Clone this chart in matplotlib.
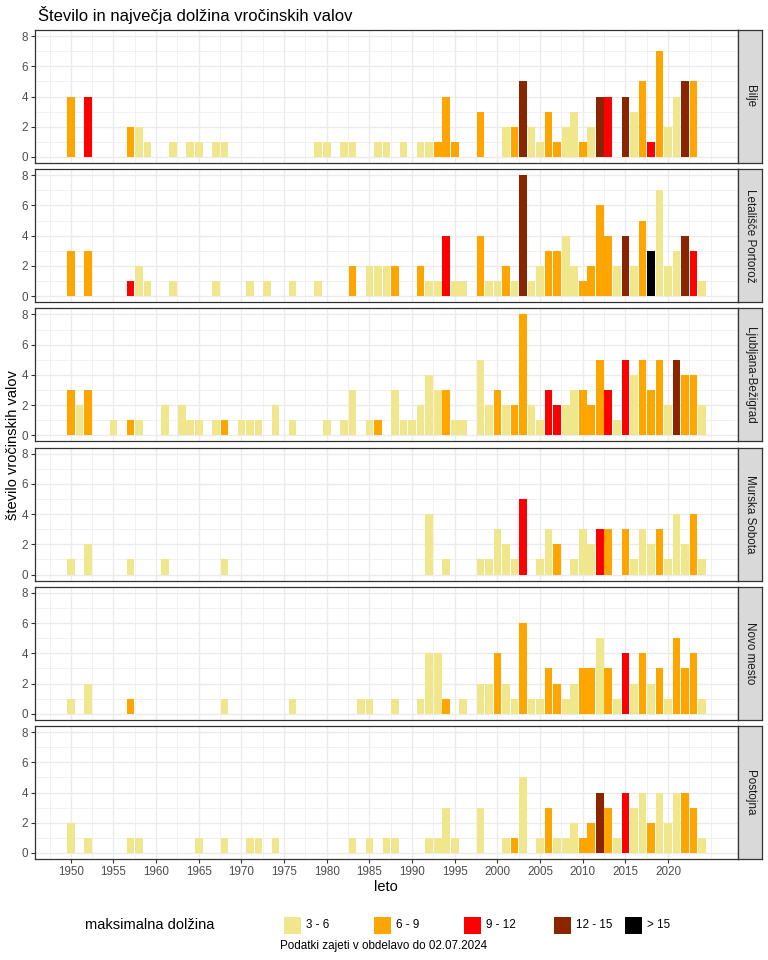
import matplotlib
matplotlib.use("Agg")
import matplotlib.pyplot as plt
from matplotlib.patches import Rectangle
from matplotlib.ticker import FixedLocator

plt.rcParams['font.family'] = ['Liberation Sans', 'DejaVu Sans']

# ---------------- data ----------------
categories = ["3 - 6", "6 - 9", "9 - 12", "12 - 15", "> 15"]
cat_colors = ["#F0E68C", "#FFA500", "#FF0000", "#8B2500", "#000000"]
stations = ["Bilje", "Letališče Portorož", "Ljubljana-Bežigrad",
            "Murska Sobota", "Novo mesto", "Postojna"]

# category codes: 1 = "3 - 6", 2 = "6 - 9", 3 = "9 - 12", 4 = "12 - 15", 5 = "> 15"
bilje_years = [1950, 1952, 1957, 1958, 1959, 1962, 1964, 1965, 1967, 1968,
               1979, 1980, 1982, 1983, 1986, 1987, 1989, 1991, 1992, 1993,
               1994, 1995, 1998, 2001, 2002, 2003, 2004, 2005, 2006, 2007,
               2008, 2009, 2010, 2011, 2012, 2013, 2015, 2016, 2017, 2018,
               2019, 2020, 2021, 2022, 2023]
bilje_counts = [4, 4, 2, 2, 1, 1, 1, 1, 1, 1,
                1, 1, 1, 1, 1, 1, 1, 1, 1, 1,
                4, 1, 3, 2, 2, 5, 2, 1, 3, 1,
                2, 3, 1, 2, 4, 4, 4, 3, 5, 1,
                7, 2, 4, 5, 5]
bilje_cats = [2, 3, 2, 1, 1, 1, 1, 1, 1, 1,
              1, 1, 1, 1, 1, 1, 1, 1, 1, 2,
              2, 2, 2, 1, 2, 4, 1, 1, 2, 2,
              1, 1, 2, 1, 4, 3, 4, 1, 2, 3,
              2, 1, 1, 4, 2]

portoroz_years = [1950, 1952, 1957, 1958, 1959, 1962, 1967, 1971, 1973, 1976,
                  1979, 1983, 1985, 1986, 1987, 1988, 1991, 1992, 1993, 1994,
                  1995, 1996, 1998, 1999, 2000, 2001, 2002, 2003, 2004, 2005,
                  2006, 2007, 2008, 2009, 2010, 2011, 2012, 2013, 2014, 2015,
                  2016, 2017, 2018, 2019, 2020, 2021, 2022, 2023, 2024]
portoroz_counts = [3, 3, 1, 2, 1, 1, 1, 1, 1, 1,
                   1, 2, 2, 2, 2, 2, 2, 1, 1, 4,
                   1, 1, 4, 1, 1, 2, 1, 8, 1, 2,
                   3, 3, 4, 2, 1, 2, 6, 4, 2, 4,
                   2, 5, 3, 7, 2, 3, 4, 3, 1]
portoroz_cats = [2, 2, 3, 1, 1, 1, 1, 1, 1, 1,
                 1, 2, 1, 1, 1, 2, 2, 1, 1, 3,
                 1, 1, 2, 1, 1, 2, 1, 4, 1, 1,
                 2, 2, 1, 1, 2, 2, 2, 2, 1, 4,
                 1, 2, 5, 1, 1, 1, 4, 3, 1]

ljubljana_years = [1950, 1951, 1952, 1955, 1957, 1958, 1961, 1963, 1964, 1965,
                   1967, 1968, 1970, 1971, 1972, 1974, 1976, 1980, 1982, 1983,
                   1985, 1986, 1988, 1989, 1990, 1991, 1992, 1993, 1994, 1995,
                   1996, 1998, 1999, 2000, 2001, 2002, 2003, 2004, 2005, 2006,
                   2007, 2008, 2009, 2010, 2011, 2012, 2013, 2014, 2015, 2016,
                   2017, 2018, 2019, 2020, 2021, 2022, 2023, 2024]
ljubljana_counts = [3, 2, 3, 1, 1, 1, 2, 2, 1, 1,
                    1, 1, 1, 1, 1, 2, 1, 1, 1, 3,
                    1, 1, 3, 1, 1, 2, 4, 3, 3, 1,
                    1, 5, 2, 3, 2, 2, 8, 2, 1, 3,
                    2, 2, 3, 3, 2, 5, 3, 1, 5, 4,
                    5, 3, 5, 2, 5, 4, 4, 2]
ljubljana_cats = [2, 1, 2, 1, 2, 1, 1, 1, 1, 1,
                  1, 2, 1, 1, 1, 1, 1, 1, 1, 1,
                  1, 2, 1, 1, 1, 1, 1, 1, 2, 1,
                  1, 1, 1, 2, 1, 2, 2, 1, 1, 3,
                  3, 1, 1, 2, 2, 2, 3, 1, 3, 1,
                  2, 2, 2, 1, 4, 2, 2, 1]

murska_years = [1950, 1952, 1957, 1961, 1968, 1992, 1994, 1998, 1999, 2000,
                2001, 2002, 2003, 2005, 2006, 2007, 2009, 2010, 2011, 2012,
                2013, 2015, 2016, 2017, 2018, 2019, 2020, 2021, 2022, 2023,
                2024]
murska_counts = [1, 2, 1, 1, 1, 4, 1, 1, 1, 3,
                 2, 1, 5, 1, 3, 2, 1, 3, 2, 3,
                 3, 3, 1, 3, 2, 3, 1, 4, 2, 4,
                 1]
murska_cats = [1, 1, 1, 1, 1, 1, 1, 1, 1, 1,
               1, 1, 3, 1, 1, 2, 1, 1, 1, 3,
               2, 2, 1, 1, 1, 2, 1, 1, 1, 2,
               1]

novo_years = [1950, 1952, 1957, 1968, 1976, 1984, 1985, 1988, 1991, 1992,
              1993, 1994, 1996, 1998, 1999, 2000, 2001, 2002, 2003, 2004,
              2005, 2006, 2007, 2008, 2009, 2010, 2011, 2012, 2013, 2014,
              2015, 2016, 2017, 2018, 2019, 2020, 2021, 2022, 2023, 2024]
novo_counts = [1, 2, 1, 1, 1, 1, 1, 1, 1, 4,
               4, 1, 1, 2, 2, 4, 2, 1, 6, 1,
               1, 3, 2, 1, 2, 3, 3, 5, 3, 1,
               4, 2, 4, 2, 3, 1, 5, 3, 4, 1]
novo_cats = [1, 1, 2, 1, 1, 1, 1, 1, 1, 1,
             1, 2, 1, 1, 1, 2, 1, 1, 2, 1,
             1, 2, 2, 1, 1, 2, 2, 1, 2, 1,
             3, 1, 2, 1, 2, 1, 2, 2, 2, 1]

postojna_years = [1950, 1952, 1957, 1958, 1965, 1968, 1971, 1972, 1974, 1983,
                  1985, 1987, 1988, 1992, 1993, 1994, 1995, 1998, 2001, 2002,
                  2003, 2005, 2006, 2007, 2008, 2009, 2010, 2011, 2012, 2013,
                  2014, 2015, 2016, 2017, 2018, 2019, 2020, 2021, 2022, 2023,
                  2024]
postojna_counts = [2, 1, 1, 1, 1, 1, 1, 1, 1, 1,
                   1, 1, 1, 1, 1, 3, 1, 3, 1, 1,
                   5, 1, 3, 1, 1, 2, 1, 2, 4, 3,
                   1, 4, 3, 4, 2, 4, 2, 4, 4, 3,
                   1]
postojna_cats = [1, 1, 1, 1, 1, 1, 1, 1, 1, 1,
                 1, 1, 1, 1, 1, 1, 1, 1, 1, 2,
                 1, 1, 2, 1, 1, 1, 2, 2, 4, 2,
                 1, 3, 1, 1, 2, 1, 1, 1, 2, 2,
                 1]

x_tick_labels = [1950, 1955, 1960, 1965, 1970, 1975, 1980, 1985, 1990,
                 1995, 2000, 2005, 2010, 2015, 2020]
y_tick_labels = [0, 2, 4, 6, 8]

title = "Število in največja dolžina vročinskih valov"
x_title = "leto"
y_title = "število vročinskih valov"
legend_title = "maksimalna dolžina"
caption = "Podatki zajeti v obdelavo do 02.07.2024"

panel_data = [
    (bilje_years, bilje_counts, bilje_cats),
    (portoroz_years, portoroz_counts, portoroz_cats),
    (ljubljana_years, ljubljana_counts, ljubljana_cats),
    (murska_years, murska_counts, murska_cats),
    (novo_years, novo_counts, novo_cats),
    (postojna_years, postojna_counts, postojna_cats),
]

# ---------------- figure ----------------
W, H = 768, 960
fig = plt.figure(figsize=(W / 100, H / 100), dpi=100)
fig.patch.set_facecolor("white")

def fx(px):
    return px / W

def fy(py):
    return 1 - py / H

left_px, right_px = 35, 738
strip_w = 24
panel_h = 133
panel_step = 139.2
first_top = 30

grid_col = "#EBEBEB"
frame_col = "#333333"
tick_lab_col = "#4D4D4D"

minor_x = [1947.5 + 2.5 * k for k in range(0, 32)]
minor_x = [v for v in minor_x if v not in x_tick_labels]
minor_y = [1, 3, 5, 7]

for i, (name, (yrs, cnts, cts)) in enumerate(zip(stations, panel_data)):
    top = first_top + i * panel_step
    ax = fig.add_axes([fx(left_px), fy(top + panel_h),
                       fx(right_px - left_px), panel_h / H])
    ax.bar(yrs, cnts, width=0.9, color=[cat_colors[c - 1] for c in cts],
           linewidth=0, zorder=3)
    ax.set_xlim(1945.8, 2028.2)
    ax.set_ylim(-0.4, 8.4)
    ax.xaxis.set_major_locator(FixedLocator(x_tick_labels))
    ax.xaxis.set_minor_locator(FixedLocator(minor_x))
    ax.yaxis.set_major_locator(FixedLocator(y_tick_labels))
    ax.yaxis.set_minor_locator(FixedLocator(minor_y))
    ax.grid(which="major", color=grid_col, linewidth=1.0, zorder=0)
    ax.grid(which="minor", color=grid_col, linewidth=0.5, zorder=0)
    ax.set_axisbelow(True)
    for sp in ax.spines.values():
        sp.set_color(frame_col)
        sp.set_linewidth(0.9)
    ax.tick_params(which="major", direction="out", length=3, width=0.8,
                   color=frame_col, labelsize=8.4, labelcolor=tick_lab_col, pad=2)
    ax.tick_params(which="minor", length=0)
    if i < len(stations) - 1:
        ax.tick_params(axis="x", which="major", length=0, labelbottom=False)
    ax.set_yticklabels([str(v) for v in y_tick_labels])
    if i == len(stations) - 1:
        ax.set_xticklabels([str(v) for v in x_tick_labels])

    # facet strip
    sax = fig.add_axes([fx(right_px), fy(top + panel_h), fx(strip_w), panel_h / H])
    sax.set_xticks([])
    sax.set_yticks([])
    sax.set_facecolor("#D9D9D9")
    for sp in sax.spines.values():
        sp.set_color(frame_col)
        sp.set_linewidth(0.9)
    sax.text(0.5, 0.5, name, rotation=270, ha="center", va="center",
             fontsize=8.4, color="#1A1A1A", transform=sax.transAxes)

# titles
fig.text(fx(38), fy(15), title, fontsize=12.0, ha="left", va="center", color="black")
fig.text(fx(13), fy(445), y_title, fontsize=10.5, rotation=90,
         ha="center", va="center", color="black")
fig.text(fx(386), fy(887), x_title, fontsize=10.5, ha="center", va="center",
         color="black")

# legend
fig.text(fx(85), fy(925), legend_title, fontsize=10.5, ha="left", va="center",
         color="black")
key_x = [284, 374, 464, 554, 625]
for kx, lab, col in zip(key_x, categories, cat_colors):
    fig.patches.append(Rectangle((fx(kx), fy(934)), fx(17), 17 / H,
                                 transform=fig.transFigure, facecolor=col,
                                 edgecolor="none"))
    fig.text(fx(kx + 22), fy(925), lab, fontsize=8.4, ha="left", va="center",
             color="black")

fig.text(fx(384), fy(946), caption, fontsize=8.4, ha="center", va="center",
         color="black")

fig.savefig("out.png", dpi=100, facecolor="white")
